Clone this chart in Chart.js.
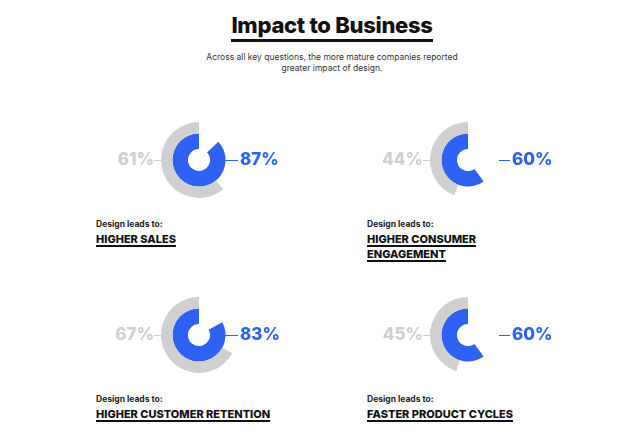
<!DOCTYPE html>
<html><head><meta charset="utf-8">
<script src="https://cdn.jsdelivr.net/npm/chart.js@4"></script>
<style>
body{margin:0;width:620px;height:431px;background:#fff;font-family:Inter,"Noto Sans",sans-serif;position:relative;overflow:hidden}
.abs{position:absolute}
h1{position:absolute;left:0;width:664px;top:12px;margin:0;text-align:center;font-size:22px;font-weight:800;color:#111;letter-spacing:-0.3px}
h1 span{border-bottom:3px solid #111;padding-bottom:1px}
.sub{position:absolute;left:0;width:664px;top:52px;text-align:center;font-size:8.5px;line-height:11px;color:#333}
.pct{font-size:17px;font-weight:800;line-height:20px}
.lead{font-size:8.5px;font-weight:700;color:#222}
.ttl{font-size:11px;font-weight:800;color:#111;line-height:15px;text-decoration:underline;text-decoration-thickness:1.5px;text-underline-offset:2px}
.ln{position:absolute;height:1px}
</style></head><body>
<h1><span>Impact to Business</span></h1>
<div class="sub">Across all key questions, the more mature companies reported<br>greater impact of design.</div>
<script>
// values per panel
const matureValues = [87, 60, 83, 60];
const lessMatureValues = [61, 44, 67, 45];
const panelTitles = ["HIGHER SALES", "HIGHER CONSUMER\nENGAGEMENT", "HIGHER CUSTOMER RETENTION", "FASTER PRODUCT CYCLES"];

const BLUE = "#2d62f4", GREY = "#d0d0d0";
const centers = [[199,160],[468,160],[199,335],[468,335]];
const textX = [96, 367, 96, 367];

centers.forEach(([cx, cy], i) => {
    const c = document.createElement("canvas");
    c.width = 76; c.height = 76;
    c.className = "abs";
    c.style.left = (cx - 38) + "px"; c.style.top = (cy - 38) + "px";
    document.body.appendChild(c);
    new Chart(c, {
        type: "doughnut",
        data: {
            datasets: [
                { data: [100 - lessMatureValues[i], lessMatureValues[i]], backgroundColor: ["rgba(0,0,0,0)", GREY], borderWidth: 0, weight: 11 },
                { data: [100 - matureValues[i], matureValues[i]], backgroundColor: ["rgba(0,0,0,0)", BLUE], borderWidth: 0, weight: 15 }
            ]
        },
        options: {
            responsive: false, animation: false, cutout: "29%",
            layout: { padding: 0 },
            plugins: { legend: { display: false }, tooltip: { enabled: false } }
        }
    });

    // left grey label + leader
    const g = document.createElement("div");
    g.className = "abs pct"; g.style.color = GREY;
    g.style.right = (620 - (cx - 45)) + "px"; g.style.top = (cy - 11) + "px";
    g.textContent = lessMatureValues[i] + "%";
    document.body.appendChild(g);
    const gl = document.createElement("div");
    gl.className = "ln"; gl.style.background = GREY;
    gl.style.left = (cx - 45) + "px"; gl.style.width = "8px"; gl.style.top = cy + "px";
    document.body.appendChild(gl);

    // right blue label + leader
    const bl = document.createElement("div");
    bl.className = "ln"; bl.style.background = BLUE;
    const lx = i % 2 === 0 ? cx + 26 : cx + 26;
    const labelX = i % 2 === 0 ? cx + 41 : cx + 44;
    bl.style.left = (i % 2 === 0 ? lx : lx + 5) + "px";
    bl.style.width = (labelX - 2 - (i % 2 === 0 ? lx : lx + 5)) + "px";
    bl.style.top = cy + "px";
    document.body.appendChild(bl);
    const b = document.createElement("div");
    b.className = "abs pct"; b.style.color = BLUE;
    b.style.left = labelX + "px"; b.style.top = (cy - 11) + "px";
    b.textContent = matureValues[i] + "%";
    document.body.appendChild(b);

    // captions
    const l = document.createElement("div");
    l.className = "abs lead"; l.style.left = textX[i] + "px"; l.style.top = (cy + 59) + "px";
    l.textContent = "Design leads to:";
    document.body.appendChild(l);
    const t = document.createElement("div");
    t.className = "abs ttl"; t.style.left = textX[i] + "px"; t.style.top = (cy + 72) + "px";
    t.innerHTML = panelTitles[i].replace("\n", "<br>");
    document.body.appendChild(t);
});
</script>
</body></html>
